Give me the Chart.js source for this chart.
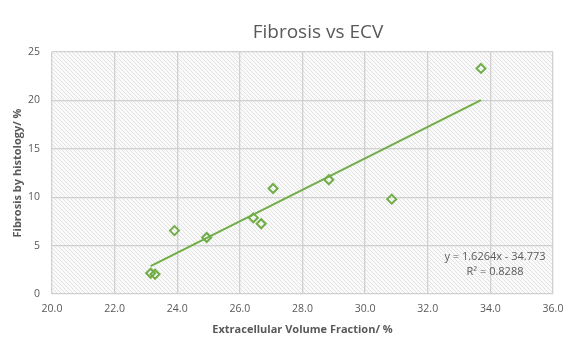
<!DOCTYPE html>
<html>
<head>
<meta charset="utf-8">
<script src="https://cdn.jsdelivr.net/npm/chart.js@4"></script>
<style>
html,body{margin:0;padding:0;background:#fff;}
#wrap{width:574px;height:350px;}
</style>
</head>
<body>
<div id="wrap"><canvas id="c" width="574" height="350"></canvas></div>
<script>
const ecv = [23.15, 23.29, 23.91, 24.94, 26.43, 26.68, 27.06, 28.84, 30.85, 33.70];
const fibrosis = [2.14, 2.04, 6.55, 5.84, 7.87, 7.26, 10.9, 11.8, 9.8, 23.3];
const slope = 1.6264;
const intercept = -34.773;
const rSquared = 0.8288;
const xTicks = [20, 22, 24, 26, 28, 30, 32, 34, 36];
const yTicks = [0, 5, 10, 15, 20, 25];
const titleText = 'Fibrosis vs ECV';
const xTitle = 'Extracellular Volume Fraction/ %';
const yTitle = 'Fibrosis by histology/ %';
const eqLine1 = 'y = ' + slope + 'x - ' + Math.abs(intercept);
const eqLine2 = 'R\u00B2 = ' + rSquared;

const points = ecv.map((x, i) => ({x: x, y: fibrosis[i]}));
const xMin = Math.min(...ecv), xMax = Math.max(...ecv);
const trend = [xMin, xMax].map(x => ({x: x, y: slope * x + intercept}));

const green = '#70ad47';
const textGray = '#595959';

function makePattern(ctx) {
  const p = document.createElement('canvas');
  p.width = 4; p.height = 4;
  const g = p.getContext('2d');
  g.fillStyle = '#fafafa';
  g.fillRect(0, 0, 4, 4);
  g.strokeStyle = '#e2e2e2';
  g.lineWidth = 1;
  g.beginPath();
  g.moveTo(-1, -1); g.lineTo(5, 5);
  g.moveTo(-1, 3); g.lineTo(1, 5);
  g.moveTo(3, -1); g.lineTo(5, 1);
  g.stroke();
  return ctx.createPattern(p, 'repeat');
}

const bgPlugin = {
  id: 'bgHatch',
  beforeDraw(chart) {
    const {ctx, chartArea: a} = chart;
    ctx.save();
    ctx.fillStyle = makePattern(ctx);
    ctx.fillRect(a.left, a.top, a.right - a.left, a.bottom - a.top);
    ctx.restore();
  },
  afterDraw(chart) {
    const {ctx} = chart;
    ctx.save();
    ctx.fillStyle = textGray;
    ctx.textAlign = 'center';
    ctx.textBaseline = 'middle';
    ctx.font = '19px "Open Sans", sans-serif';
    ctx.fillText(titleText, 318, 33);
    ctx.font = '11px "Open Sans", sans-serif';
    ctx.fillText(eqLine1, 495, 257);
    ctx.fillText(eqLine2, 495, 272);
    ctx.restore();
  }
};

new Chart(document.getElementById('c'), {
  type: 'scatter',
  data: {
    datasets: [
      {
        type: 'line',
        data: trend,
        borderColor: green,
        borderWidth: 2,
        pointRadius: 0,
        fill: false,
        order: 2
      },
      {
        type: 'scatter',
        data: points,
        pointStyle: 'rectRot',
        pointRadius: 4.5,
        pointBorderWidth: 2,
        pointBorderColor: green,
        pointBackgroundColor: 'rgba(255,255,255,0)',
        order: 1
      }
    ]
  },
  plugins: [bgPlugin],
  options: {
    responsive: false,
    animation: false,
    layout: {padding: {top: 52, right: 21, left: 11, bottom: 14}},
    plugins: {legend: {display: false}, tooltip: {enabled: false}, title: {display: false}},
    scales: {
      x: {
        type: 'linear',
        min: 20, max: 36,
        afterBuildTicks(s) { s.ticks = xTicks.map(v => ({value: v})); },
        afterFit(s) { s.height = 42; },
        grid: {color: '#d0d0d0', lineWidth: 1.3, drawTicks: false},
        border: {display: false},
        ticks: {color: textGray, font: {family: 'Open Sans', size: 10.5}, padding: 9, callback: v => Number(v).toFixed(1), maxRotation: 0},
        title: {display: true, text: xTitle, color: textGray, font: {family: 'Open Sans', size: 11, weight: 'bold'}, padding: {top: 2, bottom: 0}}
      },
      y: {
        min: 0, max: 25,
        afterBuildTicks(s) { s.ticks = yTicks.map(v => ({value: v})); },
        afterFit(s) { s.width = 41; },
        grid: {color: '#d0d0d0', lineWidth: 1.3, drawTicks: false},
        border: {display: false},
        ticks: {color: textGray, font: {family: 'Open Sans', size: 10.5}, padding: 12},
        title: {display: true, text: yTitle, color: textGray, font: {family: 'Open Sans', size: 11, weight: 'bold'}, padding: {top: 0, bottom: 0}}
      }
    }
  }
});
</script>
</body>
</html>
